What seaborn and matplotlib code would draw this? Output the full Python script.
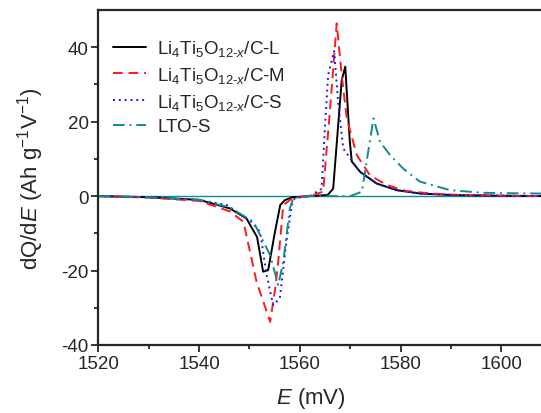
import matplotlib
matplotlib.use("Agg")
import matplotlib.pyplot as plt
import pandas as pd
import seaborn as sns

# dQ/dE curves (E in mV, dQ/dE in Ah g-1 V-1)
e_L = [1520, 1530, 1540, 1546.1, 1549.4, 1551.5, 1552.7, 1553.7, 1555.0, 1556.1, 1557.0, 1558.5,
       1562, 1565.5, 1566.6, 1568.3, 1569.0, 1569.9, 1570.3, 1571.9, 1575.2, 1579.2, 1583.8, 1590, 1600, 1610]
v_L = [0, -0.3, -1.0, -3.3, -6.0, -11.0, -20.3, -19.9, -10.0, -2.4, -1.1, -0.3,
       0, 0.3, 2.0, 31.2, 34.8, 14.7, 9.3, 6.6, 3.4, 1.6, 0.7, 0.3, 0.1, 0]

e_M = [1520, 1530, 1540, 1546.1, 1548.8, 1551.4, 1554.1, 1555.1, 1555.7, 1556.7, 1558.7,
       1562, 1564.6, 1566.0, 1567.3, 1568.3, 1569.3, 1571.3, 1573.9, 1577.2, 1581.0, 1586, 1592, 1600, 1610]
v_M = [0, -0.4, -1.3, -4.1, -6.9, -23.0, -33.8, -24.8, -17.6, -2.4, -0.4,
       0, 1.2, 23.6, 46.4, 32.5, 20.9, 11.0, 5.6, 3.0, 1.4, 0.7, 0.3, 0.1, 0]

e_S = [1520, 1530, 1540, 1545.5, 1550.3, 1552.1, 1553.4, 1554.7, 1556.0, 1556.4, 1557.4, 1558.4, 1559.0,
       1562, 1564.3, 1565.0, 1565.6, 1566.8, 1567.6, 1568.6, 1571.9, 1575.2, 1579.2, 1584, 1590, 1600, 1610]
v_S = [0, -0.3, -1.0, -2.4, -6.8, -9.6, -21.2, -29.3, -27.5, -23.0, -11.4, -2.4, -0.5,
       0, 2.0, 19.0, 32.5, 39.0, 25.0, 12.8, 6.5, 3.4, 1.6, 0.7, 0.3, 0.1, 0]

e_LTO = [1520, 1530, 1540, 1546, 1550.8, 1554.1, 1555.7, 1556.7, 1558.0, 1558.7, 1562,
         1570, 1572.3, 1574.6, 1575.9, 1577.9, 1580.5, 1583.8, 1589.8, 1596.3, 1600, 1607.6, 1612]
v_LTO = [0, -0.3, -1.0, -3.0, -6.9, -15.9, -23.9, -17.6, -3.3, -0.5, 0,
         0, 1.2, 20.9, 14.6, 11.0, 7.4, 3.9, 1.6, 0.9, 0.8, 0.7, 0.7]

labels = ["Li$_4$Ti$_5$O$_{12\u2010x}$/C-L", "Li$_4$Ti$_5$O$_{12\u2010x}$/C-M",
          "Li$_4$Ti$_5$O$_{12\u2010x}$/C-S", "LTO-S"]
colors = ["black", "#ff1a1a", "#1a1aff", "#138a8a"]
styles = ["-", (0, (5, 3)), (0, (1, 2)), (0, (6, 2.5, 1, 2.5))]

sns.set_style("ticks")
plt.rcParams["font.family"] = ["Liberation Sans", "DejaVu Sans"]
plt.rcParams["mathtext.fontset"] = "custom"
plt.rcParams["mathtext.rm"] = "Liberation Sans"
plt.rcParams["mathtext.it"] = "Liberation Sans:italic"
plt.rcParams["mathtext.bf"] = "Liberation Sans:bold"
plt.rcParams["axes.unicode_minus"] = False

fig = plt.figure(figsize=(5.41, 4.14), dpi=100)
# axes run past the right edge, as in the cropped reference
ax = fig.add_axes([0.1817, 0.1643, 0.9316, 0.809])

series = [(e_L, v_L), (e_M, v_M), (e_S, v_S), (e_LTO, v_LTO)]
for (e, v), lab, col, ls in zip(series, labels, colors, styles):
    df = pd.DataFrame({"E": e, "dQdE": v})
    sns.lineplot(data=df, x="E", y="dQdE", ax=ax, color=col, linestyle=ls,
                 linewidth=1.4, label=lab)

ax.axhline(0, color="#138a8a", linewidth=1.0, zorder=0)

ax.set_xlim(1520, 1620)
ax.set_ylim(-40, 50)
ax.set_xticks([1520, 1540, 1560, 1580, 1600])
ax.set_xticks(range(1530, 1620, 20), minor=True)
ax.set_yticks([-40, -20, 0, 20, 40])
ax.set_yticks([-30, -10, 10, 30], minor=True)
ax.tick_params(which="major", direction="out", length=5, width=1.3, labelsize=13.5, pad=2)
ax.tick_params(which="minor", direction="out", length=3, width=1.3)
for s in ax.spines.values():
    s.set_linewidth(1.6)
    s.set_visible(True)

ax.set_xlabel("$E$ (mV)", fontsize=16)
ax.xaxis.set_label_coords(0.422, -0.12)
ax.set_ylabel("dQ/d$E$ (Ah g$^{-1}$V$^{-1}$)", fontsize=16, labelpad=11)

ax.legend(loc="upper left", bbox_to_anchor=(0.0, 0.96), frameon=False, fontsize=13.5,
          handlelength=1.75, handletextpad=0.6, labelspacing=0.35, borderaxespad=0.4)

fig.savefig("out.png", dpi=100)
